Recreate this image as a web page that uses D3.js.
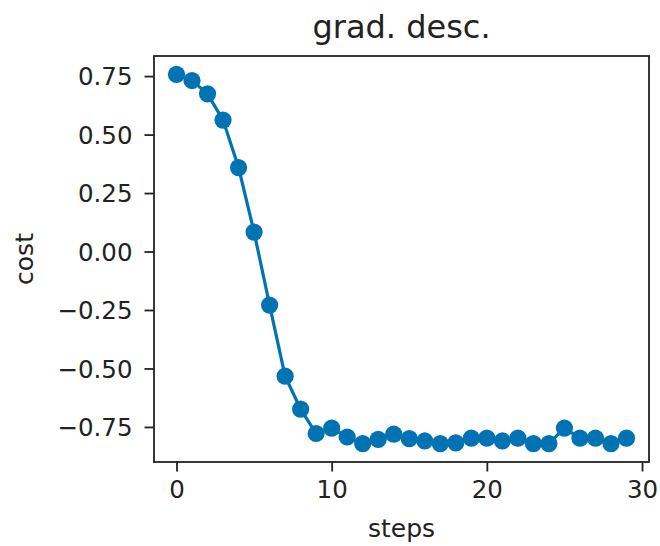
<!DOCTYPE html>
<html>
<head>
<meta charset="utf-8">
<script src="https://cdn.jsdelivr.net/npm/d3@7"></script>
<style>
  html, body { margin: 0; padding: 0; background: #fff; }
  svg { display: block; font-family: "DejaVu Sans", sans-serif; }
</style>
</head>
<body>
<svg id="chart" width="660" height="546"></svg>
<script>
// Cost per optimisation step
const steps = d3.range(30);
const cost = [
  0.757, 0.731, 0.674, 0.562, 0.359, 0.083, -0.229, -0.533, -0.674, -0.778,
  -0.755, -0.793, -0.821, -0.803, -0.781, -0.800, -0.810, -0.821, -0.818, -0.798,
  -0.798, -0.810, -0.798, -0.821, -0.821, -0.755, -0.798, -0.798, -0.821, -0.798
];
const xTicks = [0, 10, 20, 30];
const yTicks = [0.75, 0.50, 0.25, 0.00, -0.25, -0.50, -0.75];
const titleText = "grad. desc.";
const xLabel = "steps";
const yLabel = "cost";

const FONT = "'DejaVu Sans', sans-serif";
const margin = { left: 154, right: 11, top: 56, bottom: 84 };
const W = 660, H = 546;
const svg = d3.select("#chart");

// axis limits padded by 5% of the data span on each side
const xPad = (d3.max(steps) - d3.min(steps)) * 0.05;
const yMin = d3.min(cost), yMax = d3.max(cost);
const yPad = (yMax - yMin) * 0.05;

const x = d3.scaleLinear()
  .domain([d3.min(steps) - xPad, d3.max(steps) + xPad])
  .range([margin.left, W - margin.right]);
const y = d3.scaleLinear()
  .domain([yMin - yPad, yMax + yPad])
  .range([H - margin.bottom, margin.top]);

const color = "#0173b2";
const fmtY = v => d3.format(".2f")(v).replace("-", "\u2212");

// x axis
const xAxis = svg.append("g")
  .attr("transform", `translate(0,${H - margin.bottom})`)
  .call(d3.axisBottom(x).tickValues(xTicks).tickSize(9.5).tickPadding(9).tickFormat(d3.format("d")));
// y axis
const yAxis = svg.append("g")
  .attr("transform", `translate(${margin.left},0)`)
  .call(d3.axisLeft(y).tickValues(yTicks).tickSize(9.5).tickPadding(12).tickFormat(fmtY));

[xAxis, yAxis].forEach(g => {
  g.attr("font-family", FONT).attr("font-size", 24.5);
  g.select(".domain").remove();
  g.selectAll(".tick line").attr("stroke", "#222").attr("stroke-width", 1.8);
  g.selectAll(".tick text").attr("fill", "#222");
});
yAxis.selectAll(".tick text").attr("dy", "0.36em");

// frame
svg.append("rect")
  .attr("x", margin.left).attr("y", margin.top)
  .attr("width", W - margin.left - margin.right)
  .attr("height", H - margin.top - margin.bottom)
  .attr("fill", "none").attr("stroke", "#222").attr("stroke-width", 1.8);

// line + markers
const pts = steps.map((s, i) => [s, cost[i]]);
svg.append("path")
  .datum(pts)
  .attr("fill", "none")
  .attr("stroke", color)
  .attr("stroke-width", 3.2)
  .attr("d", d3.line().x(d => x(d[0])).y(d => y(d[1])));

svg.append("g").selectAll("circle")
  .data(pts).join("circle")
  .attr("cx", d => x(d[0])).attr("cy", d => y(d[1]))
  .attr("r", 8.6).attr("fill", color);

// title and axis labels
svg.append("text")
  .attr("x", (margin.left + W - margin.right) / 2).attr("y", 37.5)
  .attr("text-anchor", "middle").attr("fill", "#222")
  .attr("font-family", FONT).attr("font-size", 32).text(titleText);

svg.append("text")
  .attr("x", (margin.left + W - margin.right) / 2).attr("y", 536.5)
  .attr("text-anchor", "middle").attr("fill", "#222")
  .attr("font-family", FONT).attr("font-size", 25).text(xLabel);

svg.append("text")
  .attr("transform", `translate(33,${(margin.top + H - margin.bottom) / 2}) rotate(-90)`)
  .attr("text-anchor", "middle").attr("fill", "#222")
  .attr("font-family", FONT).attr("font-size", 25).text(yLabel);
</script>
</body>
</html>
